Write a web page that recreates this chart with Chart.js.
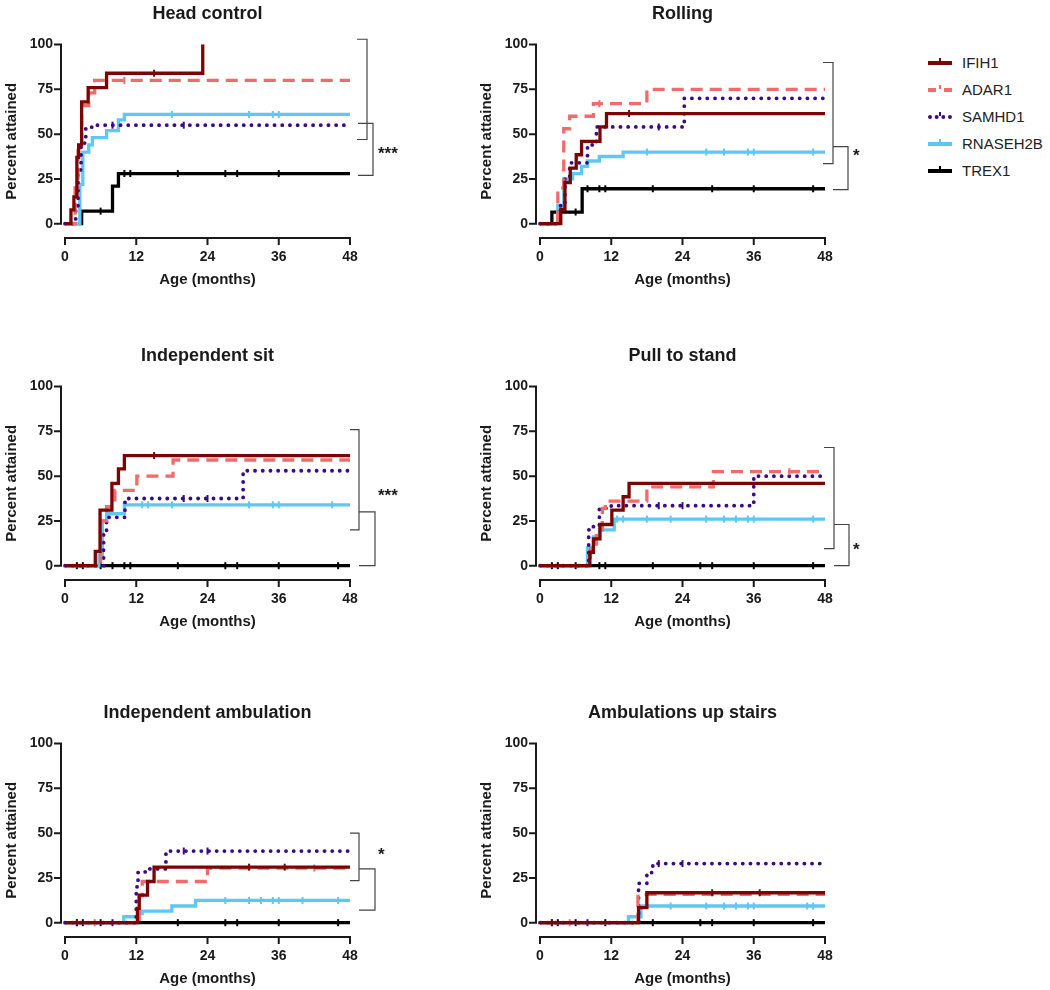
<!DOCTYPE html>
<html>
<head>
<meta charset="utf-8">
<script src="https://cdn.jsdelivr.net/npm/chart.js@4.4.1/dist/chart.umd.min.js"></script>
<style>
  body { margin: 0; background: #fff; }
  #page { position: relative; width: 1050px; height: 990px; font-family: 'Liberation Sans', Arial, Helvetica, sans-serif; }
  #page canvas { position: absolute; }
  .legend-row { position: absolute; left: 928px; height: 20px; line-height: 20px; font-size: 15px; color: #222; white-space: nowrap; }
  .swatch { position: absolute; left: 0; top: 8px; width: 24px; height: 0; border-top: 4px solid; }
  .swatch::after { content: ''; position: absolute; left: 11px; top: -7px; width: 2px; height: 4px; background: currentColor; }
  .legend-row .lbl { position: absolute; left: 34px; top: 0; }
</style>
</head>
<body>
<div id="page"></div>
<script>
// ─── Data ─────────────────────────────────────────────────────────────────────
// each point is [age in months, percent attained]; a repeated percent marks a censored case
const genes = ['IFIH1', 'ADAR1', 'SAMHD1', 'RNASEH2B', 'TREX1'];
const panelTitles = ['Head control', 'Rolling', 'Independent sit', 'Pull to stand', 'Independent ambulation', 'Ambulations up stairs'];
const xTicks = [0, 12, 24, 36, 48];
const yTicks = [0, 25, 50, 75, 100];

// Head control
const headIFIH1 = [[0, 0], [1, 7.7], [1.5, 15], [2, 37], [2.3, 44], [2.8, 68], [3.9, 76], [7, 84], [15, 84], [23.2, 100]];
const headADAR1 = [[0, 0], [1.7, 20], [2.2, 42], [2.8, 66], [4, 73], [5, 80], [10, 80], [48, 80]];
const headSAMHD1 = [[0, 0], [1.8, 10], [2.2, 30], [2.7, 45], [3.5, 53], [4.5, 55], [8, 55], [20, 55], [48, 55]];
const headRNASEH2B = [[0, 0], [2.5, 22], [3, 40], [4, 44], [4.6, 48], [7, 52], [9, 58], [10, 61], [18, 61], [31, 61], [35, 61], [36, 61], [48, 61]];
const headTREX1 = [[0, 0], [2.8, 7], [6, 7], [8, 21], [9, 28], [10, 28], [11, 28], [19, 28], [27, 28], [29, 28], [36, 28], [48, 28]];
const headBrackets = [[103, 47], [56, 27]];
const headStar = ['***', 41];

// Rolling
const rollIFIH1 = [[0, 0], [3.5, 8], [4.2, 23], [5.1, 31], [6.1, 38.5], [7, 46], [10.1, 54], [11.2, 61.5], [15, 61.5], [48, 61.5]];
const rollADAR1 = [[0, 0], [3, 20], [4, 53], [5, 60], [9, 67], [10, 67], [18, 75], [48, 75]];
const rollSAMHD1 = [[0, 0], [3.2, 10], [4.2, 25], [5, 34], [8, 44], [9.5, 54], [20, 54], [24.3, 70], [48, 70]];
const rollRNASEH2B = [[0, 0], [3, 10], [4, 25], [5.5, 28], [7, 32], [8, 35], [10, 37.5], [14, 40], [18, 40], [28, 40], [31, 40], [35, 40], [36, 40], [46, 40], [48, 40]];
const rollTREX1 = [[0, 0], [2, 6.5], [6, 6.5], [7.1, 19.5], [8, 19.5], [10, 19.5], [11, 19.5], [19, 19.5], [29, 19.5], [36, 19.5], [46, 19.5], [48, 19.5]];
const rollBrackets = [[90, 33.5], [43, 19]];
const rollStar = ['*', 40];

// Independent sit
const sitIFIH1 = [[0, 0], [5.1, 8], [5.9, 31], [7.9, 46], [9, 54], [10, 61.5], [15, 61.5], [48, 61.5]];
const sitADAR1 = [[0, 0], [6, 25], [7, 33], [8.4, 42], [12.1, 50], [18.2, 59], [48, 59]];
const sitSAMHD1 = [[0, 0], [6.5, 18], [7, 27], [10.1, 37.5], [20, 37.5], [24, 37.5], [30, 53], [48, 53]];
const sitRNASEH2B = [[0, 0], [5.7, 6], [6.3, 25], [7, 29], [10, 34], [13, 34], [14, 34], [18, 34], [31, 34], [35, 34], [36, 34], [45, 34], [48, 34]];
const sitTREX1 = [[0, 0], [2, 0], [3, 0], [6, 0], [8, 0], [10, 0], [11, 0], [19, 0], [27, 0], [29, 0], [36, 0], [46, 0], [48, 0]];
const sitBrackets = [[76, 20], [30, 0]];
const sitStar = ['***', 41];

// Pull to stand
const pullIFIH1 = [[0, 0], [8.4, 7.5], [9, 15], [10.1, 23], [12.1, 31], [14, 38.5], [15, 46], [48, 46]];
const pullADAR1 = [[0, 0], [8.5, 12], [9.5, 20], [10.5, 32], [11, 36], [18, 44], [29.2, 52.5], [42, 52.5], [48, 52.5]];
const pullSAMHD1 = [[0, 0], [8.2, 20], [9, 22], [10, 32], [12, 33.5], [20, 33.5], [24, 33.5], [36, 50], [48, 50]];
const pullRNASEH2B = [[0, 0], [8, 10], [9, 16], [10, 20], [12.5, 26], [13, 26], [14, 26], [18, 26], [22, 26], [28, 26], [31, 26], [33, 26], [35, 26], [36, 26], [46, 26], [48, 26]];
const pullTREX1 = [[0, 0], [2, 0], [3, 0], [6, 0], [10, 0], [11, 0], [19, 0], [27, 0], [29, 0], [36, 0], [46, 0], [48, 0]];
const pullBrackets = [[66, 9.5], [23, 0]];
const pullStar = ['*', 10.7];

// Independent ambulation
const ambIFIH1 = [[0, 0], [2, 0], [12.2, 8], [12.5, 15.4], [13.9, 23], [15, 31], [31, 31], [37, 31], [48, 31]];
const ambADAR1 = [[0, 0], [5, 0], [12.5, 15], [13, 23], [24, 30.5], [42, 30.5], [48, 30.5]];
const ambSAMHD1 = [[0, 0], [8, 0], [12, 20], [12.3, 28], [13.5, 30], [17, 40], [20, 40], [24, 40], [48, 40]];
const ambRNASEH2B = [[0, 0], [9.9, 3.3], [12.3, 5], [13, 6.5], [18, 9.3], [22, 12.4], [27, 12.4], [31, 12.4], [33, 12.4], [35, 12.4], [36, 12.4], [40, 12.4], [46, 12.4], [48, 12.4]];
const ambTREX1 = [[0, 0], [2, 0], [3, 0], [6, 0], [19, 0], [27, 0], [29, 0], [36, 0], [46, 0], [48, 0]];
const ambBrackets = [[50, 23.5], [30, 7]];
const ambStar = ['*', 40];

// Ambulations up stairs
const stairIFIH1 = [[0, 0], [2, 0], [16.6, 8.4], [18, 16.7], [29, 16.7], [37, 16.7], [48, 16.7]];
const stairADAR1 = [[0, 0], [5, 0], [16.5, 15.8], [48, 15.8]];
const stairSAMHD1 = [[0, 0], [8, 0], [16.6, 22], [18, 28], [19, 33], [20, 33], [24, 33], [48, 33]];
const stairRNASEH2B = [[0, 0], [14.9, 3.3], [17, 9.3], [22, 9.3], [28, 9.3], [31, 9.3], [33, 9.3], [35, 9.3], [36, 9.3], [45, 9.3], [46, 9.3], [48, 9.3]];
const stairTREX1 = [[0, 0], [2, 0], [3, 0], [6, 0], [11, 0], [19, 0], [27, 0], [29, 0], [36, 0], [46, 0], [48, 0]];

// ─── Styles ───────────────────────────────────────────────────────────────────
const FONT = "'Liberation Sans', Arial, Helvetica, sans-serif";
const INK = '#1a1a1a';
const geneColors = ['#7a0505', '#f26b6b', '#3b0a86', '#5cc8f3', '#000000'];
const geneDash = [[], [12, 7], [0.1, 7.6], [], []];
const geneWidth = [3.3, 3.3, 3.8, 3.3, 3.3];
const legendBorder = ['solid', 'dashed', 'dotted', 'solid', 'solid'];

// bracket x offsets from the plot's right edge: [arm A start, A spine, arm B start, B spine]
const panels = [
  { title: panelTitles[0], left: 0, top: 0, series: [headIFIH1, headADAR1, headSAMHD1, headRNASEH2B, headTREX1], brackets: headBrackets, star: headStar, bx: [7, 17, 8, 23] },
  { title: panelTitles[1], left: 475, top: 0, series: [rollIFIH1, rollADAR1, rollSAMHD1, rollRNASEH2B, rollTREX1], brackets: rollBrackets, star: rollStar, bx: [-2, 8, 8, 23] },
  { title: panelTitles[2], left: 0, top: 342, series: [sitIFIH1, sitADAR1, sitSAMHD1, sitRNASEH2B, sitTREX1], brackets: sitBrackets, star: sitStar, bx: [0, 9, 9, 25] },
  { title: panelTitles[3], left: 475, top: 342, series: [pullIFIH1, pullADAR1, pullSAMHD1, pullRNASEH2B, pullTREX1], brackets: pullBrackets, star: pullStar, bx: [-1, 9, 9, 24] },
  { title: panelTitles[4], left: 0, top: 699, series: [ambIFIH1, ambADAR1, ambSAMHD1, ambRNASEH2B, ambTREX1], brackets: ambBrackets, star: ambStar, bx: [0, 9, 9, 25] },
  { title: panelTitles[5], left: 475, top: 699, series: [stairIFIH1, stairADAR1, stairSAMHD1, stairRNASEH2B, stairTREX1], brackets: [], star: null, bx: [0, 0, 0, 0] }
];

// ─── Plugin: detached GraphPad-style axes, brackets and stars ─────────────────
const prismAxes = {
  id: 'prismAxes',
  beforeDatasetsDraw(chart) {
    const { ctx, chartArea, scales: { x, y } } = chart;
    const ax = chartArea.left - 4;
    ctx.save();
    ctx.strokeStyle = INK;
    ctx.lineWidth = 2;
    ctx.beginPath();
    ctx.moveTo(ax, y.getPixelForValue(100) - 1);
    ctx.lineTo(ax, y.getPixelForValue(0) + 1);
    yTicks.forEach(v => {
      const py = y.getPixelForValue(v);
      ctx.moveTo(ax - 7, py);
      ctx.lineTo(ax, py);
    });
    const by = chartArea.bottom;
    ctx.moveTo(x.getPixelForValue(0) - 1, by);
    ctx.lineTo(x.getPixelForValue(48) + 1, by);
    xTicks.forEach(v => {
      const px = x.getPixelForValue(v);
      ctx.moveTo(px, by);
      ctx.lineTo(px, by + 7);
    });
    ctx.stroke();
    ctx.restore();
  },
  afterDraw(chart, args, opts) {
    const { ctx, chartArea, scales: { y } } = chart;
    const r = chartArea.right;
    const bx = opts.bx || [0, 0, 0, 0];
    ctx.save();
    ctx.strokeStyle = '#444';
    ctx.lineWidth = 1.2;
    (opts.brackets || []).forEach((b, i) => {
      const x0 = r + bx[i * 2];
      const x1 = r + bx[i * 2 + 1];
      const yt = y.getPixelForValue(b[0]);
      const yb = y.getPixelForValue(b[1]);
      ctx.beginPath();
      ctx.moveTo(x0, yt);
      ctx.lineTo(x1, yt);
      ctx.lineTo(x1, yb);
      ctx.lineTo(x0, yb);
      ctx.stroke();
    });
    if (opts.star) {
      ctx.fillStyle = INK;
      ctx.font = `bold 17px ${FONT}`;
      ctx.textAlign = 'left';
      ctx.textBaseline = 'middle';
      ctx.fillText(opts.star[0], r + 28, y.getPixelForValue(opts.star[1]) + 4);
    }
    ctx.restore();
  }
};

// censor tick wherever the value repeats the previous point (but not the closing point)
function censorRadius(c) {
  const d = c.dataset.data;
  const i = c.dataIndex;
  return i > 0 && i < d.length - 1 && d[i][1] === d[i - 1][1] ? 3.5 : 0;
}

function makePanel(p) {
  const canvas = document.createElement('canvas');
  canvas.width = 420;
  canvas.height = 289;
  canvas.style.left = p.left + 'px';
  canvas.style.top = p.top + 'px';
  document.getElementById('page').appendChild(canvas);

  const datasets = p.series.map((data, i) => ({
    label: genes[i],
    data,
    stepped: 'before',
    borderColor: geneColors[i],
    borderWidth: geneWidth[i],
    borderDash: geneDash[i],
    borderCapStyle: i === 2 ? 'round' : 'butt',
    borderJoinStyle: 'miter',
    fill: false,
    clip: false,
    pointStyle: 'line',
    pointRotation: 90,
    pointRadius: censorRadius,
    pointBorderWidth: 2,
    pointBorderColor: geneColors[i],
    pointBackgroundColor: geneColors[i]
  }));

  const tickFont = { family: FONT, size: 14, weight: 'bold' };
  const titleFont = { family: FONT, size: 15, weight: 'bold' };

  return new Chart(canvas.getContext('2d'), {
    type: 'line',
    data: { datasets },
    plugins: [prismAxes],
    options: {
      responsive: false,
      animation: false,
      events: [],
      layout: { padding: { left: 0, right: 70, top: 0, bottom: 0 } },
      plugins: {
        legend: { display: false },
        tooltip: { enabled: false },
        title: {
          display: true,
          text: p.title,
          fullSize: false,
          color: INK,
          font: { family: FONT, size: 18, weight: 'bold' },
          padding: { top: 3, bottom: 20 }
        },
        prismAxes: { brackets: p.brackets, star: p.star, bx: p.bx }
      },
      scales: {
        x: {
          type: 'linear',
          min: 0,
          max: 48,
          afterBuildTicks: s => { s.ticks = xTicks.map(v => ({ value: v })); },
          afterFit: s => { s.height = 51; },
          grid: { display: false, drawTicks: false },
          border: { display: false },
          ticks: { color: INK, font: tickFont, padding: 11, maxRotation: 0, autoSkip: false },
          title: { display: true, text: 'Age (months)', color: INK, font: titleFont, padding: 0 }
        },
        y: {
          type: 'linear',
          min: -8,
          max: 100,
          afterBuildTicks: s => { s.ticks = yTicks.map(v => ({ value: v })); },
          afterFit: s => { s.width = 65; },
          grid: { display: false, drawTicks: false },
          border: { display: false },
          ticks: { color: INK, font: tickFont, padding: 12, autoSkip: false },
          title: { display: true, text: 'Percent attained', color: INK, font: titleFont, padding: { top: 3, bottom: 0 } }
        }
      }
    }
  });
}

panels.forEach(makePanel);

// ─── Legend ───────────────────────────────────────────────────────────────────
const page = document.getElementById('page');
genes.forEach((g, i) => {
  const row = document.createElement('div');
  row.className = 'legend-row';
  row.style.top = (53 + i * 27) + 'px';
  const sw = document.createElement('span');
  sw.className = 'swatch';
  sw.style.color = geneColors[i];
  sw.style.borderTopColor = geneColors[i];
  sw.style.borderTopStyle = legendBorder[i];
  const lbl = document.createElement('span');
  lbl.className = 'lbl';
  lbl.textContent = g;
  row.appendChild(sw);
  row.appendChild(lbl);
  page.appendChild(row);
});
</script>
</body>
</html>
